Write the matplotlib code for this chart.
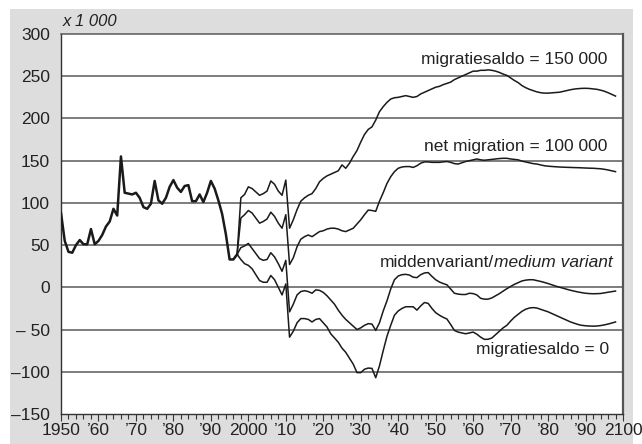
import matplotlib
matplotlib.use("Agg")
import matplotlib.pyplot as plt
from matplotlib.patches import Rectangle
from matplotlib.ticker import MultipleLocator, FixedLocator

plt.rcParams['font.family'] = ['Liberation Sans', 'DejaVu Sans']

# ---- data (x 1 000) ----
hist_years = list(range(1950, 1998))
hist_values = [88, 55, 42, 41, 50, 56, 51, 51, 69, 51, 55, 62, 72, 78, 93, 85, 155, 112, 111, 110,
               112, 106, 95, 93, 99, 126, 103, 99, 106, 119, 127, 118, 113, 120, 121, 102, 102, 110, 101, 112,
               126, 117, 103, 87, 63, 33, 33, 39]

proj_years = list(range(1997, 2099))

mig150_values = [39, 106, 110, 119, 117, 113, 109, 111, 114, 126, 122, 114, 109, 127, 70, 80, 92, 102, 106, 109,
                 111, 117, 125, 129, 132, 134, 136, 138, 145, 141, 147, 155, 162, 172, 181, 187, 190, 198, 208, 214,
                 219, 223, 224.5, 225,
                 226, 227, 226, 225, 226, 229, 231, 233, 235, 237, 238, 240, 241.5, 243, 246, 248, 250, 252, 254, 256,
                 256, 257, 257, 257.5, 257, 256, 254.5, 252.5, 251, 248, 245, 242.5, 239, 236.5, 234.5, 233, 231.5,
                 230.5, 230, 230, 230.3, 230.7, 231, 232, 233, 234, 234.8, 235.3, 235.6, 235.7, 235.5, 235, 234.5,
                 233.5, 232.3, 230.5, 228.5, 226.5]

mig100_values = [39, 82, 86, 91, 88, 82, 76, 78, 81, 89, 84, 76, 70, 86, 27, 35, 48, 57, 60, 62,
                 60, 63, 66, 67, 69, 70, 70, 69, 67, 66, 68, 70, 75, 80, 86, 91.5, 91, 90, 102, 112,
                 123, 131, 137, 141,
                 142.5, 143, 143, 142, 144, 147, 148.5, 148.5, 148, 148, 148, 148.5, 149, 148, 146.5, 146, 147.5,
                 149, 150, 151, 152, 151, 150.5, 151, 151.5, 152, 152.5, 152.8, 152.8, 152, 151.5, 151, 149.5,
                 148.5, 147.5, 146.5, 146, 145, 144, 143.5, 143.1, 142.8, 142.5, 142.3, 142.1, 142, 141.8, 141.7,
                 141.5, 141.3, 141.1, 141, 140.7, 140.4, 139.8, 139, 138, 137]

medium_values = [39, 47, 49, 52, 46, 40, 34, 32, 33, 41, 36, 28, 19, 32, -29, -20, -9, -5, -4, -5,
                 -7, -3, -3.6, -6, -10, -15, -20, -27, -33, -38, -42, -46, -50, -48, -45, -43, -43.5, -51, -42, -28,
                 -16, -2, 9, 13.4,
                 15, 15.4, 14.5, 12, 11.5, 15, 17, 17.5, 13, 9, 6.3, 4.5, 3, -2, -7, -8, -8.5, -8.5, -7, -7.4,
                 -9, -13, -14, -14, -12.5, -10, -7.5, -4.5, -1.6, 1, 3.5, 5.5, 7.5, 8.5, 9, 9, 8, 7, 5.8, 4.5,
                 3, 1.5, 0.2, -1, -2.3, -3.5, -4.5, -5.5, -6.3, -7, -7.4, -7.6, -7.5, -7.3, -6.6, -5.8, -5.1, -4.4]

mig0_values = [39, 33, 28, 26, 22, 15, 8, 6, 6, 14, 9, 0, -9, 4, -59, -52, -42, -37, -37, -38,
               -41, -38, -37, -42, -47, -55, -60, -65, -72, -77, -84, -91, -101, -101, -97, -95.6, -96, -107, -93, -75,
               -58, -45, -33, -28,
               -25, -23, -23, -23, -27, -22, -18, -19, -25, -30, -33, -35.5, -37.5, -44, -51, -53, -54, -55, -54,
               -53, -55.5, -59, -61.6, -61.5, -60, -56, -52, -48, -45, -40, -35.5, -32, -28.5, -26, -24.5, -24,
               -24.5, -26, -27.5, -29, -31, -33, -35, -37, -39, -41, -42.5, -44, -45, -45.5, -45.8, -46, -45.8,
               -45.3, -44.5, -43.5, -42.3, -41]

y_ticks = [-150, -100, -50, 0, 50, 100, 150, 200, 250, 300]
y_ticklabels = ['\u2013150', '\u2013100', '\u2013 50', '0', '50', '100', '150', '200', '250', '300']
x_ticks = list(range(1950, 2101, 10))
x_ticklabels = ['1950', '\u201960', '\u201970', '\u201980', '\u201990', '2000', '\u201910', '\u201920',
                '\u201930', '\u201940', '\u201950', '\u201960', '\u201970', '\u201980', '\u201990', '2100']

W, H = 642, 444
fig = plt.figure(figsize=(W / 100, H / 100), dpi=100)
fig.patch.set_facecolor('white')
bg = Rectangle((10 / W, 0), 623 / W, (H - 9) / H, transform=fig.transFigure,
               facecolor='#dddddd', edgecolor='none', zorder=-5)
fig.add_artist(bg)

ax = fig.add_axes([61 / W, (H - 414) / H, (623 - 61) / W, (414 - 34) / H])
ax.set_zorder(1)
ax.set_facecolor('white')
ax.set_xlim(1950, 2100)
ax.set_ylim(-150, 300)

for v in y_ticks[1:-1]:
    ax.axhline(v, color='#5a5a5a', lw=1.1, zorder=1)

line_col = '#1a1a1a'
ax.plot(proj_years[:len(mig150_values)], mig150_values, color=line_col, lw=1.1, zorder=3)
ax.plot(proj_years[:len(mig100_values)], mig100_values, color=line_col, lw=1.1, zorder=3)
ax.plot(proj_years[:len(medium_values)], medium_values, color=line_col, lw=1.1, zorder=3)
ax.plot(proj_years[:len(mig0_values)], mig0_values, color=line_col, lw=1.1, zorder=3)
ax.plot(hist_years, hist_values, color=line_col, lw=1.8, zorder=4)

ax.yaxis.set_major_locator(FixedLocator(y_ticks))
ax.set_yticklabels(y_ticklabels)
ax.xaxis.set_major_locator(FixedLocator(x_ticks))
ax.set_xticklabels(x_ticklabels)
ax.xaxis.set_minor_locator(MultipleLocator(2))
ax.tick_params(axis='y', length=0, pad=8, labelsize=12.5, labelcolor='#222222')
ax.tick_params(axis='x', which='major', direction='out', length=5, width=0.8, color='#333333',
               pad=1.5, labelsize=12.5, labelcolor='#222222')
ax.tick_params(axis='x', which='minor', direction='out', length=3.5, width=0.8, color='#333333')

for s in ['left', 'bottom']:
    ax.spines[s].set_color('#333333')
    ax.spines[s].set_linewidth(1.0)
ax.spines['top'].set_color('#5a5a5a')
ax.spines['top'].set_linewidth(1.1)
ax.spines['right'].set_color('#555555')
ax.spines['right'].set_linewidth(1.6)

ax.text(0.003, 1.012, 'x 1 000', transform=ax.transAxes, fontsize=12, style='italic',
        ha='left', va='bottom', color='#222222')

fs = 12.5
ax.text(2095.7, 270, 'migratiesaldo = 150 000', fontsize=fs, ha='right', va='center', color='#222222')
ax.text(2095.7, 167, 'net migration = 100 000', fontsize=fs, ha='right', va='center', color='#222222')
t_it = ax.text(2097.3, 29, 'medium variant', fontsize=fs, style='italic', ha='right', va='center',
               color='#222222')
ax.annotate('middenvariant/', xy=(0, 0), xycoords=t_it, ha='right', va='bottom', fontsize=fs,
            color='#222222', annotation_clip=False)
ax.text(2096.2, -74, 'migratiesaldo = 0', fontsize=fs, ha='right', va='center', color='#222222')

fig.savefig('out.png', dpi=100)
